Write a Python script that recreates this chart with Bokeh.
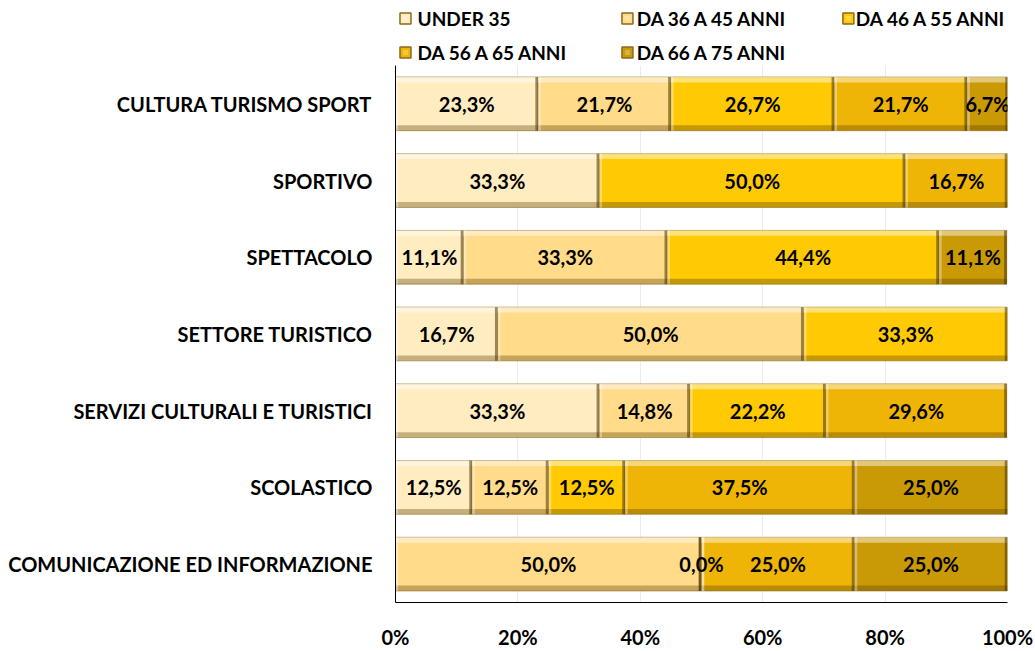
from bokeh.plotting import figure
from bokeh.models import ColumnDataSource, FactorRange, Range1d, FixedTicker
from bokeh.layouts import column
from bokeh.transform import dodge
from bokeh.core.properties import value
from bokeh.embed import file_html
from bokeh.resources import INLINE

categories = ["CULTURA TURISMO SPORT", "SPORTIVO", "SPETTACOLO", "SETTORE TURISTICO",
              "SERVIZI CULTURALI E TURISTICI", "SCOLASTICO", "COMUNICAZIONE ED INFORMAZIONE"]
series_names = ["UNDER 35", "DA 36 A 45 ANNI", "DA 46 A 55 ANNI", "DA 56 A 65 ANNI", "DA 66 A 75 ANNI"]
under_35 = [23.3, 33.3, 11.1, 16.7, 33.3, 12.5, None]
da_36_45 = [21.7, None, 33.3, 50.0, 14.8, 12.5, 50.0]
da_46_55 = [26.7, 50.0, 44.4, 33.3, 22.2, 12.5, 0.0]
da_56_65 = [21.7, 16.7, None, None, 29.6, 37.5, 25.0]
da_66_75 = [6.7, None, 11.1, None, None, 25.0, 25.0]
series_values = [under_35, da_36_45, da_46_55, da_56_65, da_66_75]
colors = ["#FFECC0", "#FFDB8A", "#FFCA04", "#EFB506", "#C99906"]
tick_values = [0, 20, 40, 60, 80, 100]
tick_labels = ["0%", "20%", "40%", "60%", "80%", "100%"]

FONT = value("Lato")
W = 1035
LEFT_BORDER, RIGHT_BORDER = 395, 28

# ---------------- legend strip (separate figure above the chart) ----------------
LEG_H = 65
lg = figure(width=W, height=LEG_H, output_backend="svg", toolbar_location=None,
            x_range=Range1d(0, 100), y_range=Range1d(0, LEG_H),
            min_border_left=LEFT_BORDER, min_border_right=RIGHT_BORDER,
            min_border_top=0, min_border_bottom=0)
lg.axis.visible = False
lg.grid.grid_line_color = None
lg.outline_line_color = None
lg.border_fill_color = "white"

LEG_ICON_X = [1.63, 37.9, 74.0]
LEG_TEXT_X = [3.6, 39.4, 75.2]
LEG_ROW_Y = [LEG_H - 18, LEG_H - 52]
icon_x, icon_y, text_x = [], [], []
for k in range(len(series_names)):
    row, c = divmod(k, 3)
    icon_x.append(LEG_ICON_X[c])
    text_x.append(LEG_TEXT_X[c])
    icon_y.append(LEG_ROW_Y[row])
leg_src = ColumnDataSource(dict(ix=icon_x, iy=icon_y, tx=text_x, name=series_names, color=colors))
lg.rect(x="ix", y="iy", width=11, height=11, width_units="screen", height_units="screen",
        source=leg_src, fill_color="color", line_color="#8a6a1c", line_width=1.5)
lg.rect(x="ix", y="iy", width=5, height=5, width_units="screen", height_units="screen",
        source=leg_src, fill_color="white", fill_alpha=0.25, line_color=None)
lg.text(x="tx", y="iy", text="name", source=leg_src, text_align="left", text_baseline="middle",
        text_font=FONT, text_font_style="bold", text_font_size="19px", text_color="black")

# ---------------- main chart ----------------
p = figure(width=W, height=651 - LEG_H, output_backend="svg", toolbar_location=None,
           y_range=FactorRange(*list(reversed(categories)), range_padding=0),
           x_range=Range1d(0, 100),
           min_border_left=LEFT_BORDER, min_border_right=RIGHT_BORDER,
           min_border_top=0, min_border_bottom=41)
p.outline_line_color = None
p.background_fill_color = "white"
p.border_fill_color = "white"

BAR_H = 0.70
cum = [0.0] * len(categories)
strip_data = []
for name, vals, col in zip(series_names, series_values, colors):
    cats, lefts, rights, mids, labels = [], [], [], [], []
    for i, v in enumerate(vals):
        if v is None:
            continue
        cats.append(categories[i])
        lefts.append(cum[i])
        rights.append(cum[i] + v)
        mids.append(cum[i] + v / 2)
        labels.append(f"{v:.1f}".replace(".", ",") + "%")
        cum[i] += v
    src = ColumnDataSource(dict(cat=cats, left=lefts, right=rights, mid=mids, label=labels,
                                redge=[r - 0.45 for r in rights], ledge=[l + 0.45 for l in lefts]))
    p.hbar(y="cat", left="left", right="right", height=BAR_H, source=src,
           fill_color=col, line_color="#9a7a30", line_width=1, line_alpha=0.6)
    strip_data.append(src)

# bevel effect
for src in strip_data:
    p.hbar(y=dodge("cat", BAR_H / 2 - 0.035, range=p.y_range), left="left", right="right", height=0.07,
           source=src, fill_color="white", fill_alpha=0.45, line_color=None)
    p.hbar(y=dodge("cat", -BAR_H / 2 + 0.035, range=p.y_range), left="left", right="right", height=0.07,
           source=src, fill_color="#5a4000", fill_alpha=0.35, line_color=None)
    p.hbar(y="cat", left="redge", right="right", height=BAR_H, source=src,
           fill_color="#4a3500", fill_alpha=0.55, line_color=None)
    p.hbar(y="cat", left="left", right="ledge", height=BAR_H, source=src,
           fill_color="white", fill_alpha=0.35, line_color=None)

for src in strip_data:
    p.text(x="mid", y="cat", text="label", source=src, text_align="center", text_baseline="middle",
           text_font=FONT, text_font_style="bold", text_font_size="20px", text_color="black")

# axes
p.xaxis.ticker = FixedTicker(ticks=tick_values)
p.xaxis.major_label_overrides = {t: l for t, l in zip(tick_values, tick_labels)}
p.xaxis.major_tick_line_color = None
p.xaxis.minor_tick_line_color = None
p.xaxis.axis_line_color = "black"
p.xaxis.major_label_standoff = 16
p.xaxis.major_label_text_font = "Lato"
p.xaxis.major_label_text_font_style = "bold"
p.xaxis.major_label_text_font_size = "20px"
p.xaxis.major_label_text_color = "black"

p.yaxis.major_tick_line_color = None
p.yaxis.minor_tick_line_color = None
p.yaxis.axis_line_color = "black"
p.yaxis.major_label_standoff = 17
p.yaxis.major_label_text_font = "Lato"
p.yaxis.major_label_text_font_style = "bold"
p.yaxis.major_label_text_font_size = "20px"
p.yaxis.major_label_text_color = "black"

p.xgrid.ticker = FixedTicker(ticks=tick_values)
p.xgrid.grid_line_color = "#ececec"
p.ygrid.grid_line_color = None

layout = column(lg, p, spacing=0)
open("out.html", "w").write(file_html(layout, INLINE))
